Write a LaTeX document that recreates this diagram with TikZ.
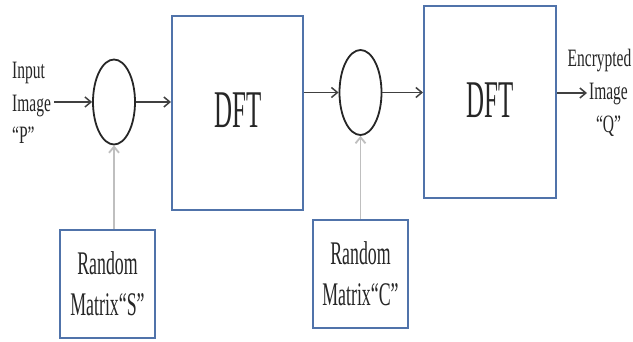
\documentclass[tikz,border=0pt]{standalone}
\usepackage{fontspec}
\setmainfont{Liberation Serif}[FakeStretch=0.54]
\newfontfamily\dftfont{Liberation Serif}[FakeStretch=0.47]
\newfontfamily\sidefont{Liberation Serif}[FakeStretch=0.62]
\usetikzlibrary{shapes.geometric, arrows.meta}
\definecolor{boxblue}{RGB}{80,115,170}

\begin{document}
\begin{tikzpicture}[x=1pt, y=-1pt, >={Straight Barb[length=6pt, width=10pt]},
	every node/.style={text centered, text=black!85, inner sep=3pt},
	block/.style={draw=boxblue, line width=2pt, fill=white},
	mixer/.style={draw=black!85, ellipse, line width=1.8pt, minimum width=42pt, minimum height=85pt, inner sep=0pt},
	flow/.style={->, line width=1.5pt, draw=black!75},
	feed/.style={->, line width=1.8pt, draw=black!25}]
	\useasboundingbox (0,0) rectangle (633,342);

		\draw (237.5, 113)	node[block, minimum width=131pt, minimum height=194pt] (dftA) {}
			(238.5, 110)	node[font=\dftfont\fontsize{53}{53}\selectfont] (dftAtext) {DFT}

			(490, 102)	node[block, minimum width=132pt, minimum height=192pt] (dftB) {}
			(490, 100)	node[font=\dftfont\fontsize{53}{53}\selectfont] (dftBtext) {DFT}

			(114, 102)	node[mixer] (mixS) {}
			(360.5, 92.5)	node[mixer] (mixC) {}


			(107.5, 284)	node[block, minimum width=95pt, minimum height=108pt, align=center, font=\fontsize{33}{41}\selectfont] (randS)
				{Random\\Matrix“S”}

			(360.5, 274)	node[block, minimum width=95pt, minimum height=108pt, align=center, font=\fontsize{33}{41}\selectfont] (randC)
				{Random\\Matrix“C”}


			(9, 103)	node[anchor=west, align=left, font=\sidefont\fontsize{25}{32.5}\selectfont] (input)
				{Input\\Image\\“P”}
			(599.5, 93)	node[align=center, inner sep=1pt, font=\sidefont\fontsize{25}{33}\selectfont] (output)
				{Encrypted\\\hspace*{18pt}Image\\\hspace*{18pt}“Q”}
;
	\coordinate (qtip) at (587, 93);

	\draw[flow] (input.east |- mixS) -- (mixS.west);
	\draw[flow] (mixS.east) -- (mixS.east -| dftA.west);
	\draw[flow] (dftA.east |- mixC) -- (mixC.west);
	\draw[flow] (mixC.east) -- (mixC.east -| dftB.west);
	\draw[flow] (dftB.east |- qtip) -- (qtip);

	\draw[feed] (randS.north -| mixS) -- (mixS.south);
	\draw[feed] (randC.north -| mixC) -- (mixC.south);
\end{tikzpicture}
\end{document}
